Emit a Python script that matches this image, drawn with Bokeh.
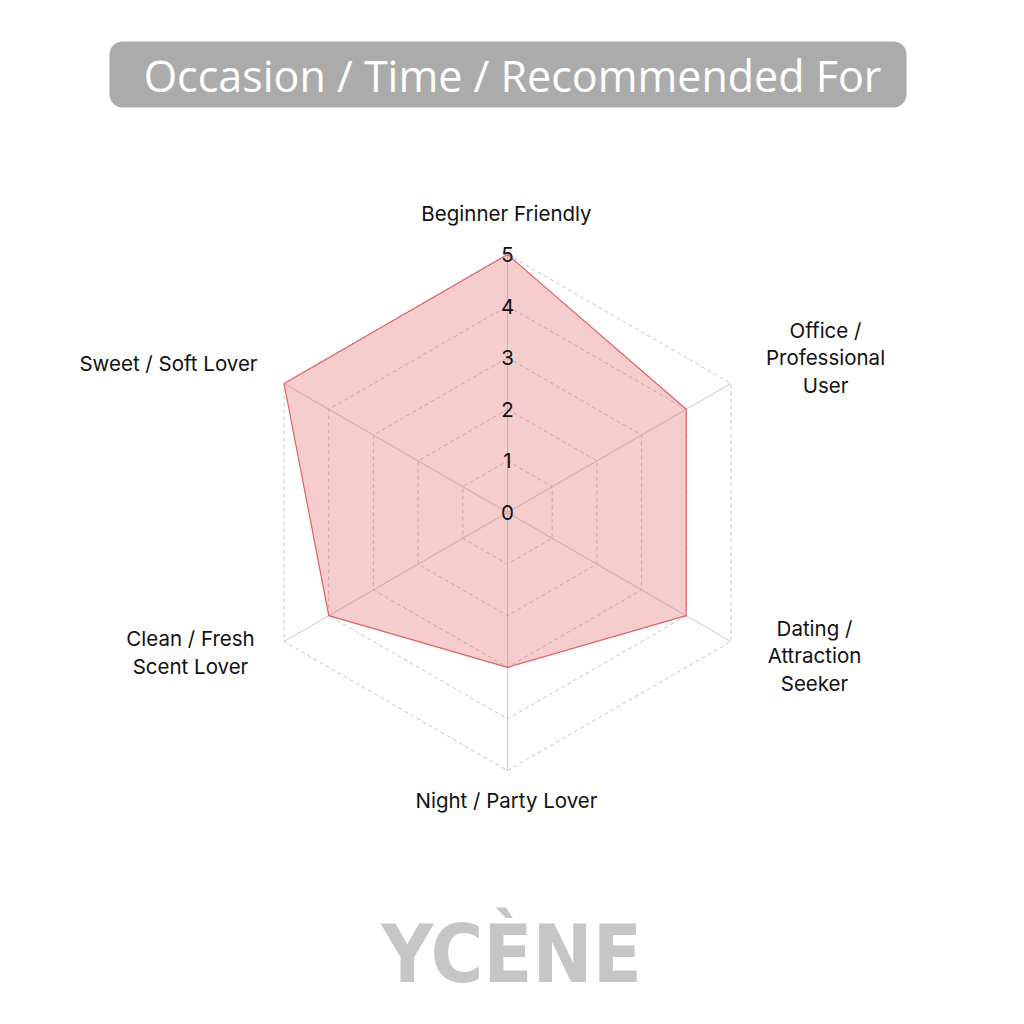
import math
from bokeh.plotting import figure
from bokeh.models import Range1d
from bokeh.core.properties import value
from bokeh.embed import file_html
from bokeh.resources import INLINE

# ---- data ----
categories = ["Beginner Friendly", "Office /\nProfessional\nUser", "Dating /\nAttraction\nSeeker",
              "Night / Party Lover", "Clean / Fresh\nScent Lover", "Sweet / Soft Lover"]
scores = [5, 4, 4, 3, 4, 5]
tick_values = [0, 1, 2, 3, 4, 5]
tick_labels = ["0", "1", "2", "3", "4", "5"]
title_text = "Occasion / Time / Recommended For"
brand_text = "YCÈNE"

# ---- layout (screen px) ----
CX, CY = 507, 512
R_MAX = 258.0
V_MAX = 5.0
label_pos = [(506, 213), (825, 357), (814, 655), (506, 800), (190, 652), (168, 363)]
LINE_H = 27.5
FONT = "Inter"

W = H = 1008
p = figure(width=W, height=H, output_backend="svg", toolbar_location=None,
           x_range=Range1d(0, W), y_range=Range1d(H, 0),
           min_border=0, outline_line_color=None, background_fill_color="white")
p.axis.visible = False
p.grid.visible = False

n = len(categories)
angles = [math.pi / 2 - i * 2 * math.pi / n for i in range(n)]


def pt(v, a):
    r = v / V_MAX * R_MAX
    return CX + r * math.cos(a), CY - r * math.sin(a)


# title box with rounded corners
bx0, bx1, by0, by1, rad = 109, 906, 41, 107, 13
xs, ys = [], []
corners = [(bx1 - rad, by0 + rad, -90, 0), (bx1 - rad, by1 - rad, 0, 90),
           (bx0 + rad, by1 - rad, 90, 180), (bx0 + rad, by0 + rad, 180, 270)]
for ccx, ccy, a0, a1 in corners:
    for k in range(9):
        t = math.radians(a0 + (a1 - a0) * k / 8)
        xs.append(ccx + rad * math.cos(t))
        ys.append(ccy + rad * math.sin(t))
p.patch(xs, ys, fill_color="#ababab", line_color=None)
p.text(x=[512], y=[75], text=[title_text], text_align="center",
       text_baseline="middle", text_color="white", text_font=value("Open Sans"),
       text_font_size=value("43px"))

# grid rings (dashed)
for v in tick_values[1:]:
    rx = [pt(v, a)[0] for a in angles] + [pt(v, angles[0])[0]]
    ry = [pt(v, a)[1] for a in angles] + [pt(v, angles[0])[1]]
    p.line(rx, ry, line_color="#c4c4c4", line_width=1, line_dash="4 3")

# radial spokes (solid)
for a in angles:
    ex, ey = pt(V_MAX, a)
    p.line([CX, ex], [CY, ey], line_color="#c8c8c8", line_width=1)

# data polygon
px = [pt(v, a)[0] for v, a in zip(scores, angles)]
py = [pt(v, a)[1] for v, a in zip(scores, angles)]
p.patch(px, py, fill_color="#e06666", fill_alpha=0.33, line_color="#e0606a", line_width=1.2)

# tick labels along vertical axis
tx = [pt(v, angles[0])[0] for v in tick_values]
ty = [pt(v, angles[0])[1] for v in tick_values]
p.text(x=tx, y=ty, text=tick_labels, text_align="center", text_baseline="middle",
       text_color="#111111", text_font=value(FONT), text_font_size=value("20.5px"))

# category labels
lx, ly, lt = [], [], []
for cat, (x0, y0) in zip(categories, label_pos):
    lines = cat.split("\n")
    m = len(lines)
    for j, ln in enumerate(lines):
        lx.append(x0)
        ly.append(y0 + (j - (m - 1) / 2) * LINE_H)
        lt.append(ln)
p.text(x=lx, y=ly, text=lt, text_align="center", text_baseline="middle",
       text_color="#111111", text_font=value(FONT), text_font_size=value("20.5px"))

# brand
p.text(x=[511], y=[954], text=[brand_text], text_align="center", text_baseline="middle",
       text_color="#c6c6c6", text_font=value("DejaVu Sans Condensed"),
       text_font_style="bold", text_font_size=value("80px"))

open("out.html", "w").write(file_html(p, INLINE))
